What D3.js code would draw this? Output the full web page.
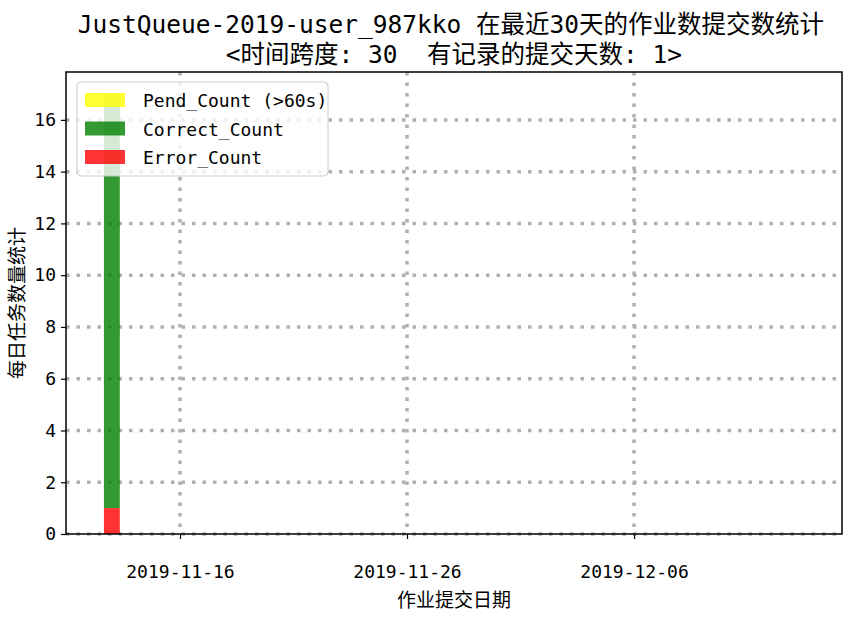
<!DOCTYPE html>
<html><head><meta charset="utf-8">
<script src="https://cdn.jsdelivr.net/npm/d3@7"></script>
<style>
body{margin:0;background:#fff}
text{font-family:"Noto Sans CJK SC","DejaVu Sans Mono",sans-serif}
.mono{font-family:"DejaVu Sans Mono","Noto Sans CJK SC",monospace}
</style></head>
<body><div id="chart"></div>
<script>
const dates = ["2019-11-13"];
const errorCount = [1];
const correctCount = [16];
const pendCount = [0];
const xTicks = ["2019-11-16", "2019-11-26", "2019-12-06"];
const yTicks = [0, 2, 4, 6, 8, 10, 12, 14, 16];
const title1 = "JustQueue-2019-user_987kko 在最近30天的作业数提交数统计";
const title2 = "<时间跨度: 30  有记录的提交天数: 1>";

const width = 850, height = 618;
const margin = {top: 72, right: 8, bottom: 84, left: 66};
const w = width - margin.left - margin.right;
const h = height - margin.top - margin.bottom;
const parse = d3.utcParse("%Y-%m-%d");
const day = 86400000;

const svg = d3.select("#chart").append("svg").attr("width", width).attr("height", height);
const g = svg.append("g").attr("transform", "translate(" + margin.left + "," + margin.top + ")");

const x = d3.scaleUtc()
    .domain([new Date(+parse("2019-11-13") - 2.02 * day), new Date(+parse("2019-11-13") + 32.16 * day)])
    .range([0, w]);
const y = d3.scaleLinear().domain([0, 17.85]).range([h, 0]);

// grid
g.append("g").selectAll("line").data(yTicks).enter().append("line")
    .attr("x1", 0).attr("x2", w).attr("y1", d => y(d)).attr("y2", d => y(d))
    .attr("stroke", "#b0b0b0").attr("stroke-width", 3.5).attr("stroke-dasharray", "3.5,7");
g.append("g").selectAll("line").data(xTicks).enter().append("line")
    .attr("x1", d => x(parse(d))).attr("x2", d => x(parse(d))).attr("y1", 0).attr("y2", h)
    .attr("stroke", "#b0b0b0").attr("stroke-width", 3.5).attr("stroke-dasharray", "3.5,7");

// bars
const bw = x(new Date(+parse("2019-11-13") + 0.7 * day)) - x(parse("2019-11-13"));
dates.forEach((d, i) => {
    const cx = x(parse(d));
    const segs = [
        [0, errorCount[i], "rgba(255,0,0,0.8)"],
        [errorCount[i], errorCount[i] + correctCount[i], "rgba(0,128,0,0.8)"],
        [errorCount[i] + correctCount[i], errorCount[i] + correctCount[i] + pendCount[i], "rgba(255,255,0,0.8)"]
    ];
    segs.forEach(s => {
        g.append("rect").attr("x", cx - bw / 2).attr("width", bw)
            .attr("y", y(s[1])).attr("height", y(s[0]) - y(s[1])).attr("fill", s[2]);
    });
});

// axes
const xAxis = g.append("g").attr("transform", "translate(0," + h + ")")
    .call(d3.axisBottom(x).tickValues(xTicks.map(parse)).tickFormat(d3.utcFormat("%Y-%m-%d")).tickSize(5).tickPadding(26));
const yAxis = g.append("g").call(d3.axisLeft(y).tickValues(yTicks).tickSize(5).tickPadding(5));
[xAxis, yAxis].forEach(a => {
    a.select(".domain").remove();
    a.selectAll("text").attr("class", "mono").attr("font-size", 18).attr("fill", "#000");
    a.selectAll("line").attr("stroke", "#000").attr("stroke-width", 1.2);
});
g.append("rect").attr("width", w).attr("height", h).attr("fill", "none").attr("stroke", "#000").attr("stroke-width", 1.5);

// labels
svg.append("text").attr("x", margin.left + w / 2 - 3).attr("y", 33).attr("text-anchor", "middle")
    .attr("class", "mono").attr("font-size", 24.5).text(title1);
svg.append("text").attr("x", margin.left + w / 2).attr("y", 63).attr("text-anchor", "middle")
    .attr("class", "mono").attr("font-size", 24.5).attr("xml:space", "preserve").style("white-space", "pre").text(title2);
svg.append("text").attr("x", margin.left + w / 2).attr("y", 607).attr("text-anchor", "middle")
    .attr("font-size", 19).text("作业提交日期");
svg.append("text").attr("transform", "translate(24," + (margin.top + h / 2) + ") rotate(-90)")
    .attr("text-anchor", "middle").attr("font-size", 19).text("每日任务数量统计");

// legend
const legendItems = [["Pend_Count (>60s)", "rgba(255,255,0,0.8)"], ["Correct_Count", "rgba(0,128,0,0.8)"], ["Error_Count", "rgba(255,0,0,0.8)"]];
const lg = g.append("g").attr("transform", "translate(11,10)");
lg.append("rect").attr("width", 251).attr("height", 94).attr("rx", 4)
    .attr("fill", "rgba(255,255,255,0.8)").attr("stroke", "#ccc");
legendItems.forEach((it, i) => {
    lg.append("rect").attr("x", 8).attr("y", 11 + i * 28.5).attr("width", 40).attr("height", 14).attr("fill", it[1]);
    lg.append("text").attr("x", 66).attr("y", 25 + i * 28.5).attr("class", "mono").attr("font-size", 18).text(it[0]);
});
</script></body></html>
